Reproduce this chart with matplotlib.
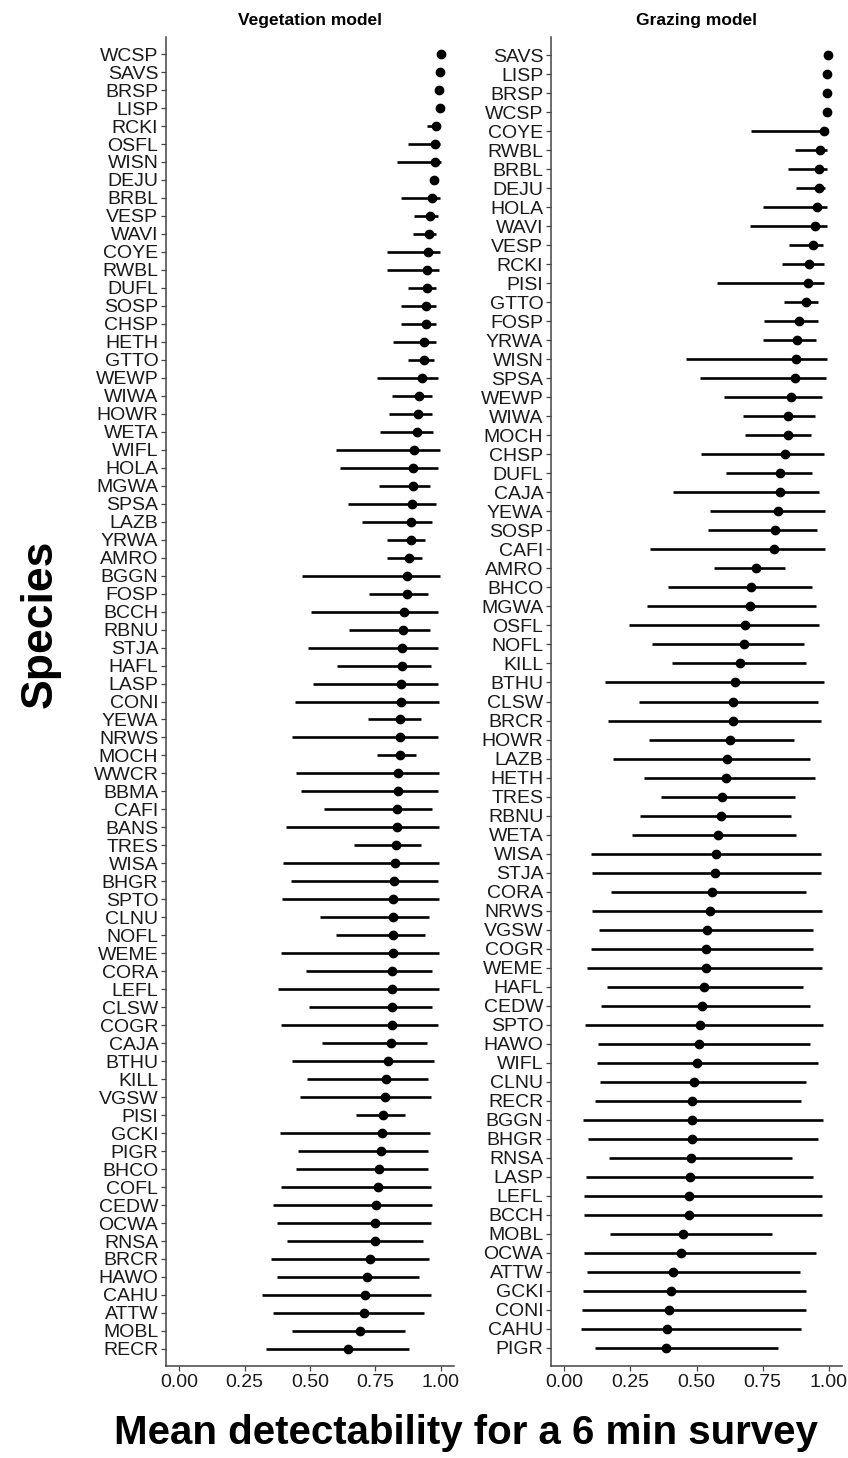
import matplotlib
matplotlib.use("Agg")
import matplotlib.pyplot as plt

plt.rcParams["font.family"] = ["Liberation Sans", "DejaVu Sans"]

# ---- Vegetation model: mean detectability with 95% interval ----
veg_species = ["WCSP", "SAVS", "BRSP", "LISP", "RCKI", "OSFL", "WISN", "DEJU", "BRBL", "VESP",
               "WAVI", "COYE", "RWBL", "DUFL", "SOSP", "CHSP", "HETH", "GTTO", "WEWP", "WIWA",
               "HOWR", "WETA", "WIFL", "HOLA", "MGWA", "SPSA", "LAZB", "YRWA", "AMRO", "BGGN",
               "FOSP", "BCCH", "RBNU", "STJA", "HAFL", "LASP", "CONI", "YEWA", "NRWS", "MOCH",
               "WWCR", "BBMA", "CAFI", "BANS", "TRES", "WISA", "BHGR", "SPTO", "CLNU", "NOFL",
               "WEME", "CORA", "LEFL", "CLSW", "COGR", "CAJA", "BTHU", "KILL", "VGSW", "PISI",
               "GCKI", "PIGR", "BHCO", "COFL", "CEDW", "OCWA", "RNSA", "BRCR", "HAWO", "CAHU",
               "ATTW", "MOBL", "RECR"]
veg_mean = [0.999, 0.996, 0.994, 0.996, 0.983, 0.977, 0.977, 0.975, 0.967, 0.958,
            0.955, 0.952, 0.948, 0.945, 0.943, 0.944, 0.935, 0.935, 0.926, 0.917,
            0.913, 0.907, 0.898, 0.894, 0.892, 0.888, 0.885, 0.885, 0.879, 0.869,
            0.869, 0.860, 0.854, 0.852, 0.852, 0.847, 0.846, 0.844, 0.844, 0.844,
            0.837, 0.837, 0.833, 0.831, 0.828, 0.826, 0.822, 0.818, 0.816, 0.816,
            0.816, 0.814, 0.813, 0.812, 0.812, 0.808, 0.799, 0.790, 0.786, 0.780,
            0.774, 0.771, 0.765, 0.758, 0.751, 0.748, 0.748, 0.729, 0.716, 0.710,
            0.706, 0.691, 0.644]
veg_lo = [0.995, 0.992, 0.990, 0.992, 0.948, 0.875, 0.833, 0.958, 0.846, 0.897,
          0.894, 0.796, 0.796, 0.875, 0.847, 0.847, 0.818, 0.873, 0.757, 0.812,
          0.802, 0.767, 0.599, 0.615, 0.763, 0.646, 0.697, 0.796, 0.793, 0.469,
          0.726, 0.504, 0.650, 0.494, 0.602, 0.513, 0.443, 0.720, 0.431, 0.757,
          0.445, 0.464, 0.555, 0.408, 0.668, 0.398, 0.427, 0.394, 0.538, 0.598,
          0.388, 0.485, 0.377, 0.496, 0.389, 0.547, 0.430, 0.487, 0.462, 0.674,
          0.385, 0.454, 0.445, 0.389, 0.360, 0.375, 0.411, 0.350, 0.375, 0.316,
          0.358, 0.431, 0.332]
veg_hi = [1.000, 0.999, 0.998, 0.999, 0.996, 0.996, 0.999, 0.990, 0.996, 0.987,
          0.983, 0.996, 0.994, 0.980, 0.983, 0.983, 0.981, 0.973, 0.987, 0.967,
          0.967, 0.968, 0.996, 0.990, 0.958, 0.981, 0.967, 0.939, 0.926, 0.996,
          0.949, 0.990, 0.958, 0.990, 0.964, 0.987, 0.994, 0.924, 0.990, 0.903,
          0.994, 0.987, 0.967, 0.994, 0.924, 0.994, 0.987, 0.994, 0.955, 0.939,
          0.994, 0.967, 0.994, 0.967, 0.990, 0.945, 0.975, 0.952, 0.964, 0.863,
          0.958, 0.949, 0.949, 0.964, 0.967, 0.964, 0.933, 0.954, 0.917, 0.961,
          0.935, 0.863, 0.879]

# ---- Grazing model: mean detectability with 95% interval ----
graz_species = ["SAVS", "LISP", "BRSP", "WCSP", "COYE", "RWBL", "BRBL", "DEJU", "HOLA", "WAVI",
                "VESP", "RCKI", "PISI", "GTTO", "FOSP", "YRWA", "WISN", "SPSA", "WEWP", "WIWA",
                "MOCH", "CHSP", "DUFL", "CAJA", "YEWA", "SOSP", "CAFI", "AMRO", "BHCO", "MGWA",
                "OSFL", "NOFL", "KILL", "BTHU", "CLSW", "BRCR", "HOWR", "LAZB", "HETH", "TRES",
                "RBNU", "WETA", "WISA", "STJA", "CORA", "NRWS", "VGSW", "COGR", "WEME", "HAFL",
                "CEDW", "SPTO", "HAWO", "WIFL", "CLNU", "RECR", "BGGN", "BHGR", "RNSA", "LASP",
                "LEFL", "BCCH", "MOBL", "OCWA", "ATTW", "GCKI", "CONI", "CAHU", "PIGR"]
graz_mean = [0.997, 0.995, 0.995, 0.995, 0.982, 0.967, 0.964, 0.963, 0.954, 0.947,
             0.942, 0.926, 0.923, 0.915, 0.887, 0.881, 0.875, 0.872, 0.858, 0.847,
             0.847, 0.834, 0.817, 0.817, 0.809, 0.798, 0.792, 0.725, 0.706, 0.703,
             0.682, 0.678, 0.663, 0.646, 0.638, 0.638, 0.627, 0.615, 0.612, 0.597,
             0.593, 0.580, 0.573, 0.570, 0.560, 0.551, 0.539, 0.536, 0.536, 0.529,
             0.520, 0.513, 0.510, 0.501, 0.490, 0.484, 0.482, 0.482, 0.478, 0.475,
             0.473, 0.473, 0.450, 0.441, 0.412, 0.402, 0.395, 0.387, 0.384]
graz_lo = [0.993, 0.991, 0.991, 0.991, 0.706, 0.871, 0.845, 0.877, 0.752, 0.701,
           0.849, 0.824, 0.579, 0.830, 0.754, 0.752, 0.459, 0.513, 0.605, 0.676,
           0.682, 0.517, 0.611, 0.412, 0.551, 0.542, 0.323, 0.568, 0.393, 0.313,
           0.243, 0.330, 0.406, 0.156, 0.281, 0.165, 0.321, 0.186, 0.302, 0.365,
           0.288, 0.256, 0.101, 0.105, 0.175, 0.105, 0.133, 0.101, 0.086, 0.162,
           0.139, 0.079, 0.129, 0.124, 0.136, 0.118, 0.072, 0.089, 0.171, 0.082,
           0.076, 0.074, 0.174, 0.074, 0.085, 0.070, 0.067, 0.063, 0.117]
graz_hi = [0.999, 0.998, 0.998, 0.998, 0.989, 0.992, 0.995, 0.986, 0.992, 0.992,
           0.978, 0.982, 0.982, 0.959, 0.959, 0.953, 0.995, 0.989, 0.976, 0.948,
           0.932, 0.982, 0.938, 0.963, 0.985, 0.954, 0.986, 0.834, 0.938, 0.951,
           0.963, 0.906, 0.915, 0.982, 0.961, 0.970, 0.868, 0.929, 0.947, 0.872,
           0.856, 0.875, 0.970, 0.970, 0.913, 0.976, 0.940, 0.942, 0.973, 0.902,
           0.929, 0.978, 0.929, 0.961, 0.915, 0.894, 0.978, 0.961, 0.862, 0.940,
           0.976, 0.976, 0.786, 0.953, 0.891, 0.915, 0.915, 0.894, 0.809]

x_ticks = [0.0, 0.25, 0.5, 0.75, 1.0]
x_tick_labels = ["0.00", "0.25", "0.50", "0.75", "1.00"]

W, H = 848, 1458
fig = plt.figure(figsize=(W / 100, H / 100), dpi=100)
fig.patch.set_facecolor("white")


def px_axes(left, top, right, bottom):
    return fig.add_axes([left / W, 1 - bottom / H, (right - left) / W, (bottom - top) / H])


def draw_panel(ax, species, mean, lo, hi, title):
    n = len(species)
    pos = list(range(n))
    ax.hlines(pos, lo, hi, color="black", linewidth=1.9, zorder=2)
    ax.plot(mean, pos, "o", color="black", markersize=6.0, zorder=3)
    ax.set_ylim(n - 1 + 0.95, -0.95)
    ax.set_xlim(-0.05, 1.05)
    ax.set_yticks(pos)
    ax.set_yticklabels(species, fontsize=14, color="#1a1a1a")
    ax.set_xticks(x_ticks)
    ax.set_xticklabels(x_tick_labels, fontsize=14, color="#1a1a1a")
    for side in ("top", "right"):
        ax.spines[side].set_visible(False)
    for side in ("left", "bottom"):
        ax.spines[side].set_color("#444444")
        ax.spines[side].set_linewidth(1.1)
    ax.tick_params(axis="both", length=3.5, width=0.9, color="#444444", pad=2)
    ax.set_title(title, fontsize=12.5, fontweight="bold", pad=9)


ax_veg = px_axes(166, 37, 454, 1366)
draw_panel(ax_veg, veg_species, veg_mean, veg_lo, veg_hi, "Vegetation model")

ax_graz = px_axes(551, 37, 842, 1366)
draw_panel(ax_graz, graz_species, graz_mean, graz_lo, graz_hi, "Grazing model")

fig.text(40 / W, 1 - 624 / H, "Species", rotation=90, fontsize=32, fontweight="bold",
         ha="center", va="center")
fig.text(466 / W, 1 - 1433 / H, "Mean detectability for a 6 min survey", fontsize=29,
         fontweight="bold", ha="center", va="center")

fig.savefig("out.png", dpi=100, facecolor="white")
